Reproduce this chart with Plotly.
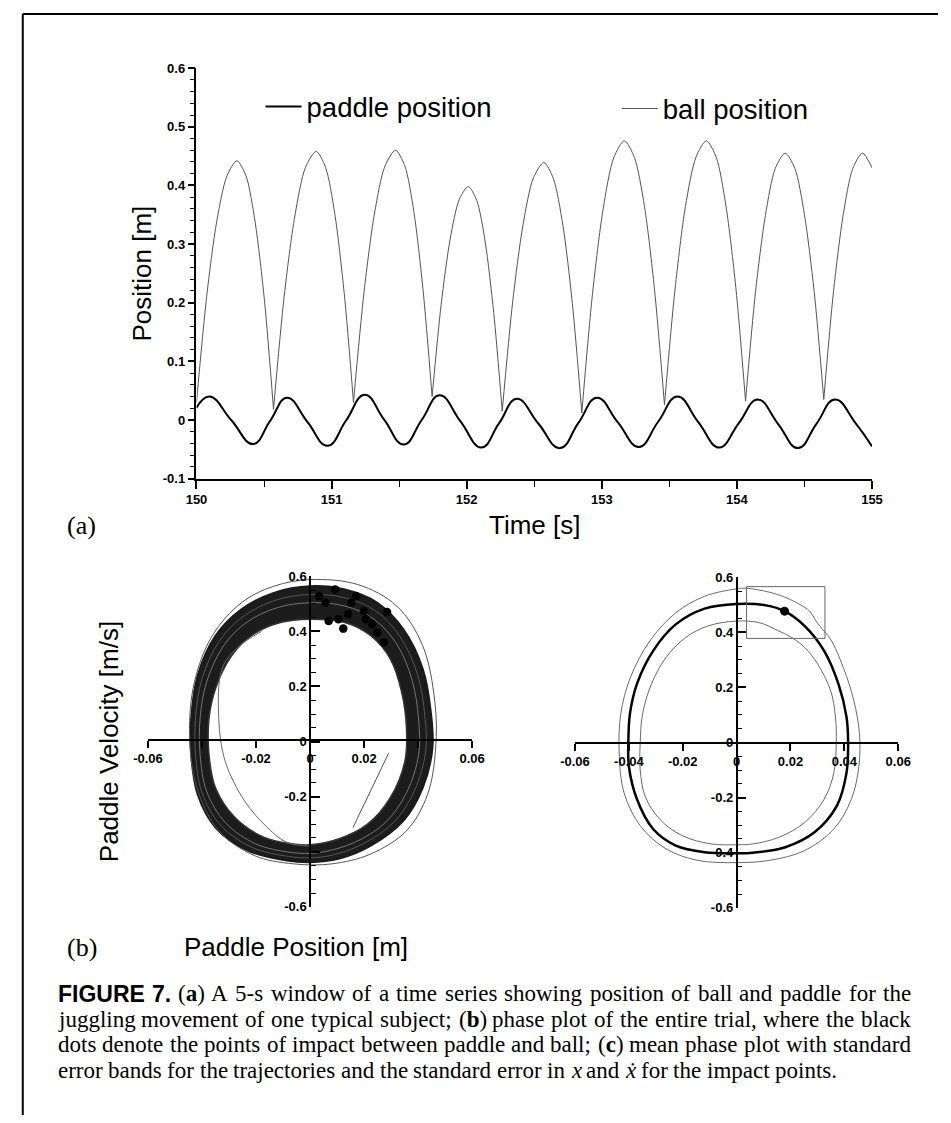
import plotly.graph_objects as go

W, H = 951, 1123
def px(x): return x / W
def py(y): return 1 - y / H

FONT = "Liberation Sans, Arial, Helvetica, sans-serif"
SERIF = "Liberation Serif, Times New Roman, serif"

# ---------------- (a) time series ----------------
paddle_t = [150.000, 150.096, 150.258, 150.419, 150.545, 150.670, 150.820, 150.970, 151.108, 151.245,
            151.389, 151.533, 151.667, 151.800, 151.954, 152.108, 152.240, 152.371, 152.530, 152.690,
            152.827, 152.964, 153.119, 153.274, 153.417, 153.559, 153.714, 153.869, 154.012, 154.155,
            154.304, 154.452, 154.589, 154.726, 154.878, 155.000]
paddle_y = [0.021, 0.040, -0.0005, -0.041, -0.0015, 0.038, -0.003, -0.044, -0.0005, 0.043,
            0.0005, -0.042, 0.000, 0.042, -0.0025, -0.047, -0.0055, 0.036, -0.006, -0.048,
            -0.005, 0.038, -0.004, -0.046, -0.003, 0.040, -0.0035, -0.047, -0.006, 0.035,
            -0.0065, -0.048, -0.0065, 0.035, -0.0055, -0.045]

ball_arcs_t = [
    [150.000, 150.075, 150.150, 150.225, 150.299, 150.367, 150.435, 150.503, 150.570],
    [150.570, 150.649, 150.728, 150.807, 150.886, 150.955, 151.024, 151.093, 151.162],
    [151.162, 151.240, 151.318, 151.395, 151.473, 151.541, 151.609, 151.676, 151.744],
    [151.744, 151.811, 151.878, 151.945, 152.012, 152.075, 152.138, 152.200, 152.263],
    [152.263, 152.340, 152.417, 152.494, 152.571, 152.641, 152.712, 152.782, 152.852],
    [152.852, 152.931, 153.010, 153.088, 153.167, 153.241, 153.316, 153.390, 153.464],
    [153.464, 153.542, 153.619, 153.697, 153.774, 153.847, 153.919, 153.992, 154.064],
    [154.064, 154.137, 154.211, 154.284, 154.357, 154.429, 154.500, 154.572, 154.643],
    [154.643, 154.715, 154.787, 154.858, 154.930, 155.000],
]
ball_arcs_y = [
    [0.030, 0.210, 0.339, 0.416, 0.442, 0.416, 0.336, 0.204, 0.018],
    [0.018, 0.211, 0.348, 0.431, 0.458, 0.431, 0.351, 0.217, 0.030],
    [0.030, 0.218, 0.353, 0.433, 0.460, 0.434, 0.355, 0.224, 0.040],
    [0.040, 0.197, 0.309, 0.376, 0.398, 0.374, 0.302, 0.183, 0.015],
    [0.015, 0.201, 0.333, 0.413, 0.439, 0.412, 0.332, 0.199, 0.012],
    [0.012, 0.215, 0.360, 0.447, 0.476, 0.448, 0.364, 0.223, 0.026],
    [0.026, 0.223, 0.364, 0.448, 0.476, 0.448, 0.365, 0.226, 0.032],
    [0.032, 0.217, 0.349, 0.429, 0.455, 0.429, 0.350, 0.219, 0.035],
    [0.035, 0.219, 0.350, 0.429, 0.455, 0.430],
]

time_ticks = [150, 151, 152, 153, 154, 155]
time_labels = ["150", "151", "152", "153", "154", "155"]
pos_ticks = [-0.1, 0, 0.1, 0.2, 0.3, 0.4, 0.5, 0.6]
pos_labels = ["-0.1", "0", "0.1", "0.2", "0.3", "0.4", "0.5", "0.6"]

# ---------------- (b) phase plot, whole trial ----------------
band_outer_x = [0, 0.0129, 0.0249, 0.0345, 0.0417, 0.0447, 0.0453, 0.0417, 0.0345, 0.0225, 0.0105, 0,
                -0.0086, -0.023, -0.035, -0.0416, -0.044, -0.044, -0.0416, -0.035, -0.0254, -0.0134, 0]
band_outer_y = [0.564, 0.552, 0.504, 0.408, 0.264, 0.108, -0.024, -0.168, -0.288, -0.378, -0.426, -0.438,
                -0.432, -0.396, -0.312, -0.192, -0.048, 0.084, 0.24, 0.384, 0.48, 0.54, 0.564]
band_inner_x = [0, 0.0129, 0.0225, 0.0297, 0.0339, 0.0357, 0.0351, 0.0297, 0.0213, 0.0105, 0, -0.0062,
                -0.017, -0.0278, -0.035, -0.0374, -0.0374, -0.035, -0.029, -0.0218, -0.011, 0]
band_inner_y = [0.444, 0.432, 0.384, 0.30, 0.18, 0.048, -0.072, -0.204, -0.30, -0.354, -0.375, -0.372,
                -0.348, -0.276, -0.168, -0.048, 0.084, 0.192, 0.312, 0.384, 0.432, 0.444]
band_mid_x = [0, 0.0129, 0.0237, 0.0321, 0.0378, 0.0402, 0.0402, 0.0357, 0.0279, 0.0165, 0.0053, 0,
              -0.0074, -0.020, -0.0314, -0.0383, -0.0407, -0.0407, -0.0383, -0.032, -0.0236, -0.0122, 0]
band_mid_y = [0.504, 0.492, 0.444, 0.354, 0.222, 0.078, -0.048, -0.186, -0.294, -0.366, -0.40, -0.406,
              -0.402, -0.372, -0.294, -0.18, -0.048, 0.084, 0.216, 0.348, 0.432, 0.486, 0.504]
band_mid2_x = [0, 0.0129, 0.0243, 0.0333, 0.0398, 0.0425, 0.0428, 0.0387, 0.0312, 0.0195, 0.0079, 0,
               -0.008, -0.0215, -0.0332, -0.040, -0.0424, -0.0424, -0.0400, -0.0335, -0.0245, -0.0128, 0]
band_mid2_y = [0.534, 0.522, 0.474, 0.381, 0.243, 0.093, -0.036, -0.177, -0.291, -0.372, -0.413, -0.422,
               -0.417, -0.384, -0.303, -0.186, -0.048, 0.084, 0.228, 0.366, 0.456, 0.513, 0.534]
thin_outer_x = [0, 0.0177, 0.0321, 0.0417, 0.0462, 0.0465, 0.0435, 0.0357, 0.0225, 0.0081, -0.0062,
                -0.0206, -0.0338, -0.0419, -0.0446, -0.0428, -0.0362, -0.0254, -0.0134, 0]
thin_outer_y = [0.588, 0.570, 0.492, 0.348, 0.144, -0.024, -0.192, -0.324, -0.408, -0.444, -0.444,
                -0.414, -0.324, -0.168, 0.024, 0.216, 0.384, 0.504, 0.564, 0.588]
thin_inner_x = [-0.018, -0.027, -0.0326, -0.0338, -0.0314, -0.0242, -0.0158, -0.0086, 0.0]
thin_inner_y = [0.40, 0.34, 0.264, 0.084, -0.072, -0.216, -0.312, -0.366, -0.38]
stray_x = [0.0291, 0.0159]
stray_y = [-0.042, -0.312]
impact_x = [0.0285, 0.0093, 0.0069, 0.0123, 0.0105, 0.020, 0.0207, 0.023, 0.0153, 0.0171, 0.0141,
            0.0249, 0.0273, 0.0057, 0.0033]
impact_y = [0.470, 0.552, 0.438, 0.410, 0.444, 0.474, 0.444, 0.426, 0.504, 0.528, 0.462, 0.396,
            0.360, 0.504, 0.528]

# ---------------- (c) mean phase plot ----------------
mean_x = [0, 0.0109, 0.0178, 0.0253, 0.0325, 0.0378, 0.0408, 0.0414, 0.0408, 0.0372, 0.0289, 0.0181,
          0.0061, 0, -0.0119, -0.0226, -0.031, -0.037, -0.040, -0.0402, -0.0396, -0.037, -0.031,
          -0.0226, -0.0119, 0]
mean_y = [0.503, 0.498, 0.477, 0.423, 0.333, 0.213, 0.093, 0.0, -0.110, -0.23, -0.326, -0.380,
          -0.400, -0.402, -0.398, -0.374, -0.314, -0.206, -0.086, 0.0, 0.105, 0.213, 0.333,
          0.429, 0.486, 0.503]
upper_x = [0, 0.0037, 0.0121, 0.0181, 0.0235, 0.0271, 0.0295, 0.0319, 0.0349, 0.0396, 0.0435, 0.0456,
           0.0454, 0.0426, 0.0361, 0.0253, 0.0121, 0, -0.0143, -0.0262, -0.0358, -0.0418, -0.0436,
           -0.043, -0.0394, -0.0322, -0.0226, -0.0119, 0]
upper_y = [0.558, 0.560, 0.546, 0.527, 0.501, 0.477, 0.441, 0.411, 0.375, 0.273, 0.153, 0.034,
           -0.086, -0.206, -0.314, -0.392, -0.428, -0.436, -0.428, -0.386, -0.302, -0.182, -0.038,
           0.105, 0.237, 0.369, 0.471, 0.531, 0.558]
lower_x = [0, 0.0085, 0.0157, 0.0205, 0.0253, 0.0301, 0.0349, 0.0367, 0.037, 0.0361, 0.0325, 0.0253,
           0.0157, 0.0061, 0, -0.0095, -0.0202, -0.0286, -0.034, -0.0358, -0.0358, -0.0349, -0.0316,
           -0.0262, -0.019, -0.0107, 0]
lower_y = [0.441, 0.435, 0.405, 0.381, 0.345, 0.285, 0.189, 0.093, -0.002, -0.110, -0.206, -0.290,
           -0.344, -0.368, -0.371, -0.368, -0.338, -0.278, -0.194, -0.098, -0.002, 0.105, 0.213,
           0.309, 0.381, 0.423, 0.441]
err_box_x = [0.0037, 0.0328, 0.0328, 0.0037, 0.0037]
err_box_y = [0.566, 0.566, 0.378, 0.378, 0.566]
mean_impact_x = [0.0178]
mean_impact_y = [0.477]

phase_xticks = [-0.06, -0.04, -0.02, 0, 0.02, 0.04, 0.06]
phase_xlabels_b = ["-0.06", "", "-0.02", "0", "0.02", "", "0.06"]
phase_xlabels_c = ["-0.06", "-0.04", "-0.02", "0", "0.02", "0.04", "0.06"]
phase_yticks = [-0.6, -0.4, -0.2, 0, 0.2, 0.4, 0.6]
phase_ylabels_b = ["-0.6", "", "-0.2", "0", "0.2", "0.4", "0.6"]
phase_ylabels_c = ["-0.6", "-0.4", "-0.2", "0", "0.2", "0.4", "0.6"]

# caption (each line is a list of words; the last line is not justified)
caption_lines = [
    ["FIGURE", "7.", "(<b>a</b>)", "A", "5-s", "window", "of", "a", "time", "series", "showing",
     "position", "of", "ball", "and", "paddle", "for", "the"],
    ["juggling", "movement", "of", "one", "typical", "subject;", "(<b>b</b>)", "phase", "plot", "of",
     "the", "entire", "trial,", "where", "the", "black"],
    ["dots", "denote", "the", "points", "of", "impact", "between", "paddle", "and", "ball;",
     "(<b>c</b>)", "mean", "phase", "plot", "with", "standard"],
    ["error", "bands", "for", "the", "trajectories", "and", "the", "standard", "error", "in",
     "<i>x</i>", "and", "<i>ẋ</i>", "for", "the", "impact", "points."],
]

fig = go.Figure()

# (a)
fig.add_trace(go.Scatter(x=paddle_t, y=paddle_y, mode="lines", name="paddle position",
                         line=dict(color="black", width=2, shape="spline", smoothing=1.3),
                         xaxis="x", yaxis="y", legend="legend"))
bt, by = [], []
for ts, ys in zip(ball_arcs_t, ball_arcs_y):
    bt += ts + [None]
    by += ys + [None]
fig.add_trace(go.Scatter(x=bt, y=by, mode="lines", name="ball position", connectgaps=False,
                         line=dict(color="#555555", width=1, shape="spline", smoothing=0.8),
                         xaxis="x", yaxis="y", legend="legend2"))

# (b)
def loop(x, y, color, width, ax, fill=None, fillcolor=None, shape="spline"):
    fig.add_trace(go.Scatter(x=x, y=y, mode="lines", showlegend=False, fill=fill, fillcolor=fillcolor,
                             line=dict(color=color, width=width, shape=shape, smoothing=1.0),
                             xaxis="x" + ax, yaxis="y" + ax, hoverinfo="skip"))

loop(band_outer_x, band_outer_y, "#1a1a1a", 2, "2", fill="toself", fillcolor="#1c1c1c")
loop(band_inner_x, band_inner_y, "#333333", 1.5, "2", fill="toself", fillcolor="white")
loop(band_mid_x, band_mid_y, "#8a8a8a", 0.8, "2")
loop(band_mid2_x, band_mid2_y, "#6e6e6e", 0.7, "2")
loop(thin_outer_x, thin_outer_y, "#555555", 1, "2")
loop(thin_inner_x, thin_inner_y, "#666666", 1, "2")
loop(stray_x, stray_y, "#555555", 1, "2", shape="linear")
fig.add_trace(go.Scatter(x=impact_x, y=impact_y, mode="markers", showlegend=False,
                         marker=dict(color="black", size=8.5), xaxis="x2", yaxis="y2"))

# (c)
loop(upper_x, upper_y, "#6a6a6a", 1, "3")
loop(lower_x, lower_y, "#6a6a6a", 1, "3")
loop(mean_x, mean_y, "black", 2.5, "3")
loop(err_box_x, err_box_y, "#666666", 1, "3", shape="linear")
fig.add_trace(go.Scatter(x=mean_impact_x, y=mean_impact_y, mode="markers", showlegend=False,
                         marker=dict(color="black", size=9), xaxis="x3", yaxis="y3"))

tickfont = dict(family=FONT, size=13, color="black", weight="bold")

def phase_axes(xdom, ydom, x0px, y0px, xlabels, ylabels):
    xa = dict(domain=[px(xdom[0]), px(xdom[1])], range=[-0.06, 0.06], anchor="free", position=py(y0px),
              showline=True, linecolor="black", linewidth=1.5, ticks="outside", ticklen=7,
              tickwidth=1.5, tickcolor="black", tickmode="array", tickvals=phase_xticks,
              ticktext=xlabels, tickfont=tickfont, showgrid=False, zeroline=False)
    ya = dict(domain=[py(ydom[1]), py(ydom[0])], range=[-0.6, 0.6], anchor="free", position=px(x0px),
              showline=True, linecolor="black", linewidth=1.5, ticks="inside", ticklen=9,
              tickwidth=1.5, tickcolor="black", tickmode="array", tickvals=phase_yticks,
              ticktext=ylabels, tickfont=tickfont, showgrid=False, zeroline=False,
              minor=dict(tickmode="linear", tick0=0, dtick=0.05, ticks="inside", ticklen=5,
                         tickcolor="black", tickwidth=1, showgrid=False))
    return xa, ya

xa2, ya2 = phase_axes((137, 471), (577, 912), 304, 743, phase_xlabels_b, phase_ylabels_b)
xa3, ya3 = phase_axes((577, 910), (578, 913), 743.5, 746, phase_xlabels_c, phase_ylabels_c)

legend_common = dict(orientation="h", xanchor="left", yanchor="middle",
                     font=dict(family=FONT, size=27.5, color="black"), bgcolor="rgba(0,0,0,0)",
                     itemwidth=36, borderwidth=0)

fig.update_layout(
    width=W, height=H, autosize=False,
    margin=dict(l=0, r=0, t=0, b=0),
    paper_bgcolor="white", plot_bgcolor="rgba(0,0,0,0)",
    font=dict(family=FONT, color="black"),
    xaxis=dict(domain=[px(187), px(883)], range=[150, 155], anchor="y", showline=True,
               linecolor="black", linewidth=2, ticks="outside", ticklen=8, tickwidth=1.5,
               tickcolor="black", tickmode="array", tickvals=time_ticks, ticktext=time_labels,
               tickfont=tickfont, showgrid=False, zeroline=False,
               minor=dict(tickmode="linear", tick0=150, dtick=0.5, ticks="outside", ticklen=6,
                          tickcolor="black", tickwidth=1.2, showgrid=False)),
    yaxis=dict(domain=[py(478), py(62)], range=[-0.1, 0.6], anchor="x", showline=True,
               linecolor="black", linewidth=1.5, ticks="outside", ticklen=7, tickwidth=1.5,
               tickcolor="black", tickmode="array", tickvals=pos_ticks, ticktext=pos_labels,
               tickfont=tickfont, showgrid=False, zeroline=False,
               minor=dict(tickmode="linear", tick0=0, dtick=0.02, ticks="outside", ticklen=5,
                          tickcolor="black", tickwidth=1, showgrid=False)),
    xaxis2=xa2, yaxis2=ya2, xaxis3=xa3, yaxis3=ya3,
    showlegend=True,
    legend=dict(x=px(253), y=py(101), **legend_common),
    legend2=dict(x=px(620), y=py(103), **legend_common),
)

annots = [
    dict(text="Position [m]", x=px(131), y=py(270), textangle=-90, font=dict(size=26)),
    dict(text="Time [s]", x=px(535), y=py(525), font=dict(size=26)),
    dict(text="(a)", x=px(52), y=py(526), xanchor="left", font=dict(family=SERIF, size=26)),
    dict(text="Paddle Velocity [m/s]", x=px(97), y=py(745), textangle=-90, font=dict(size=26)),
    dict(text="Paddle Position [m]", x=px(290), y=py(953), font=dict(size=26)),
    dict(text="(b)", x=px(52), y=py(953), xanchor="left", font=dict(family=SERIF, size=26)),
]

# --- justified caption: word widths from Times / Arial-Bold metrics (per 1000 em) ---
TIMES = {" ": 250, "(": 333, ")": 333, ",": 250, "-": 333, ".": 250, ";": 278, "5": 500,
         "A": 722, "a": 444, "b": 500, "c": 444, "d": 500, "e": 444, "f": 333, "g": 500, "h": 500,
         "i": 278, "j": 278, "k": 500, "l": 278, "m": 778, "n": 500, "o": 500, "p": 500, "q": 500,
         "r": 333, "s": 389, "t": 278, "u": 500, "v": 500, "w": 722, "x": 444, "ẋ": 444, "y": 500,
         "z": 444}
ARIALB = {"F": 611, "I": 278, "G": 778, "U": 722, "R": 722, "E": 667, "7": 556, ".": 278}
CAP_SIZE = 23
CAP_LEFT, CAP_RIGHT = 43, 922
CAP_Y0, CAP_DY = 1000, 26
WIDTH_FUDGE = 1.03

def strip(s):
    for tag in ["<b>", "</b>", "<i>", "</i>"]:
        s = s.replace(tag, "")
    return s

def word_width(w, sans):
    table = ARIALB if sans else TIMES
    return sum(table.get(ch, 500) for ch in strip(w)) * CAP_SIZE / 1000.0 * WIDTH_FUDGE

for li, words in enumerate(caption_lines):
    yline = CAP_Y0 + CAP_DY * li
    sans_flags = [li == 0 and wi < 2 for wi in range(len(words))]
    widths = [word_width(w, s) for w, s in zip(words, sans_flags)]
    if li < len(caption_lines) - 1:
        gap = (CAP_RIGHT - CAP_LEFT - sum(widths)) / (len(words) - 1)
    else:
        gap = TIMES[" "] * CAP_SIZE / 1000.0
    xcur = CAP_LEFT
    for w, s, wd in zip(words, sans_flags, widths):
        annots.append(dict(text=("<b>%s</b>" % w) if s else w, x=px(xcur), y=py(yline),
                           xanchor="left", borderpad=0,
                           font=dict(family=FONT if s else SERIF, size=CAP_SIZE)))
        xcur += wd + gap

for a in annots:
    a.setdefault("xref", "paper")
    a.setdefault("yref", "paper")
    a.setdefault("showarrow", False)
    a.setdefault("xanchor", "center")
    a.setdefault("yanchor", "middle")
    a["font"].setdefault("family", FONT)
    a["font"].setdefault("color", "black")
fig.update_layout(annotations=annots)

fig.update_layout(shapes=[
    dict(type="line", xref="paper", yref="paper", x0=px(8), y0=py(7), x1=1, y1=py(7),
         line=dict(color="black", width=2)),
    dict(type="line", xref="paper", yref="paper", x0=px(8), y0=py(7), x1=px(8), y1=0,
         line=dict(color="black", width=2)),
])

fig.write_html("out.html", config={"displayModeBar": False},
               post_script="document.body.style.margin='0px';document.body.style.overflow='hidden';")
